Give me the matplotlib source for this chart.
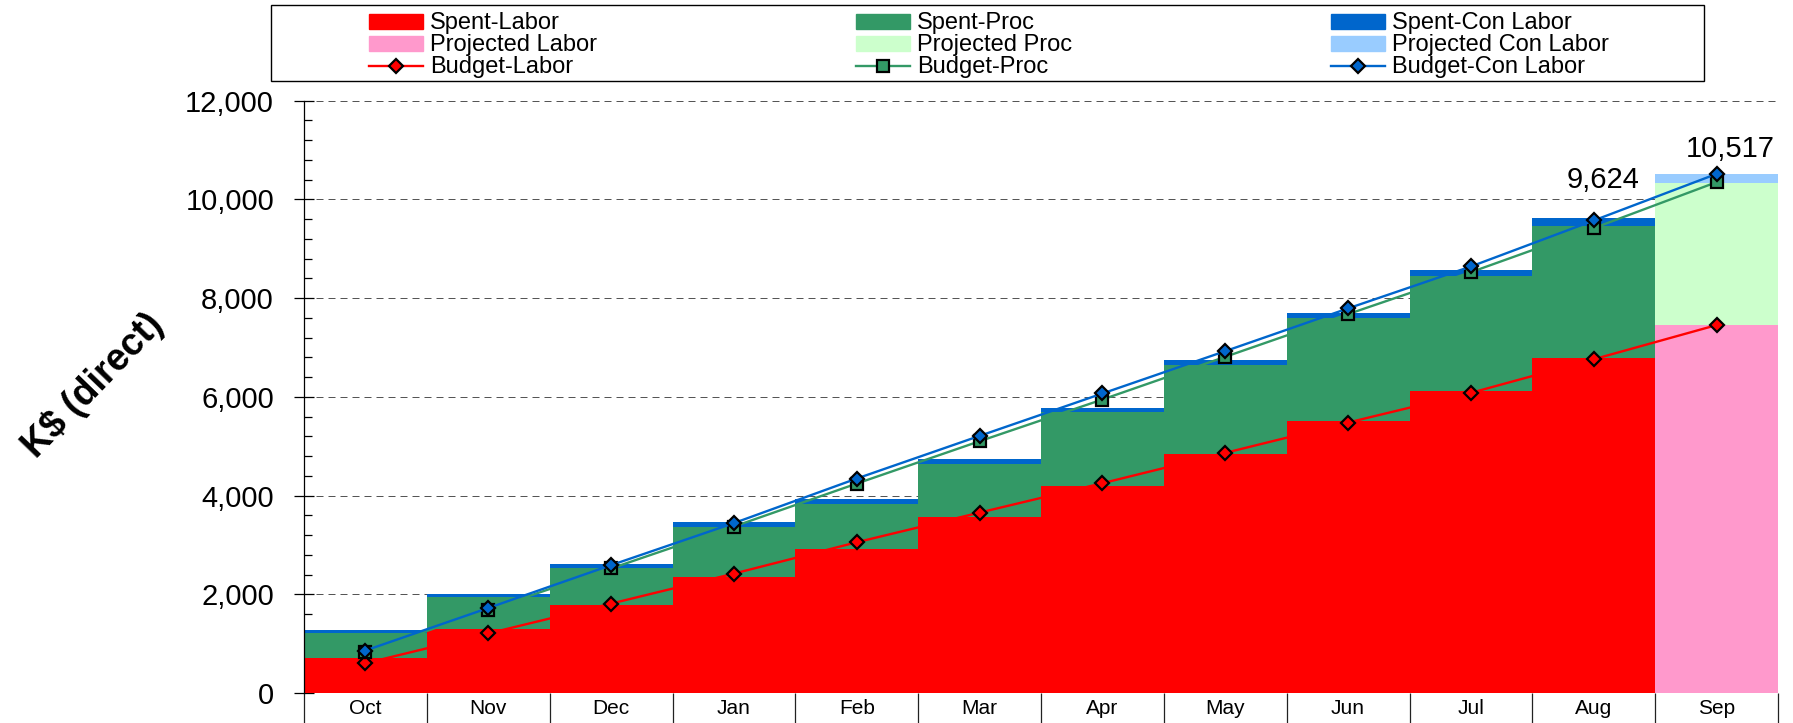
import matplotlib
matplotlib.use('Agg')
import matplotlib.pyplot as plt
from matplotlib.patches import Patch, Rectangle
from matplotlib.lines import Line2D
from matplotlib.ticker import MultipleLocator, FuncFormatter

plt.rcParams['font.family'] = ['Liberation Sans', 'DejaVu Sans']

months = ['Oct', 'Nov', 'Dec', 'Jan', 'Feb', 'Mar', 'Apr', 'May', 'Jun', 'Jul', 'Aug', 'Sep']

# spent (Oct..Aug), stacked pieces
spent_labor = [704, 1288, 1777, 2349, 2926, 3574, 4203, 4851, 5507, 6128, 6783]
spent_proc = [517, 651, 753, 1024, 905, 1068, 1493, 1798, 2094, 2317, 2669]
spent_con = [61, 61, 81, 93, 95, 101, 81, 94, 107, 129, 172]

# projected (Sep only)
proj_months = ['Sep']
proj_labor = [7454]
proj_proc = [2876]
proj_con = [187]

# budget lines (cumulative)
budget_labor = [603, 1207, 1811, 2419, 3054, 3655, 4250, 4865, 5480, 6081, 6762, 7454]
budget_proc = [826, 1689, 2523, 3373, 4243, 5101, 5946, 6811, 7676, 8526, 9418, 10350]
budget_con = [861, 1722, 2590, 3442, 4345, 5209, 6068, 6926, 7792, 8641, 9573, 10517]

c_labor, c_proc, c_con = '#FF0000', '#339966', '#0066CC'
c_plabor, c_pproc, c_pcon = '#FF99CC', '#CCFFCC', '#99CCFF'

W, H = 1793, 723
fig = plt.figure(figsize=(W / 100, H / 100), dpi=100)
ax = fig.add_axes([304 / W, 1 - 693 / H, 1474 / W, (693 - 100.7) / H])

xs = list(range(len(spent_labor)))
bot2 = [a + b for a, b in zip(spent_labor, spent_proc)]
ax.bar(xs, spent_labor, width=1.0, color=c_labor, lw=0)
ax.bar(xs, spent_proc, width=1.0, bottom=spent_labor, color=c_proc, lw=0)
ax.bar(xs, spent_con, width=1.0, bottom=bot2, color=c_con, lw=0)

xp = [months.index(m) for m in proj_months]
pbot2 = [a + b for a, b in zip(proj_labor, proj_proc)]
ax.bar(xp, proj_labor, width=1.0, color=c_plabor, lw=0)
ax.bar(xp, proj_proc, width=1.0, bottom=proj_labor, color=c_pproc, lw=0)
ax.bar(xp, proj_con, width=1.0, bottom=pbot2, color=c_pcon, lw=0)

xb = list(range(len(months)))
ax.plot(xb, budget_labor, color=c_labor, lw=1.7, marker='D', ms=7.3, mfc=c_labor, mec='black', mew=1.6, zorder=4)
ax.plot(xb, budget_proc, color=c_proc, lw=1.7, marker='s', ms=9, mfc=c_proc, mec='black', mew=1.6, zorder=5)
ax.plot(xb, budget_con, color=c_con, lw=1.7, marker='D', ms=7.3, mfc=c_con, mec='black', mew=1.6, zorder=6)

# total labels
spent_total = bot2[-1] + spent_con[-1]
proj_total = pbot2[-1] + proj_con[-1]
ax.annotate(f'{spent_total:,}', (xs[-1], spent_total), xytext=(7, 17), textcoords='offset points',
            ha='center', va='bottom', fontsize=21)
ax.annotate(f'{proj_total:,}', (xp[-1], proj_total), xytext=(10, 8), textcoords='offset points',
            ha='center', va='bottom', fontsize=21)

ax.set_xlim(-0.5, len(months) - 0.5)
ax.set_ylim(0, 12000)
ax.set_xticks(xb)
ax.set_xticklabels(months)
ax.set_xticks([i - 0.5 for i in range(len(months) + 1)], minor=True)
ax.tick_params(axis='x', which='major', length=0, labelsize=15, pad=4.5)
ax.tick_params(axis='x', which='minor', direction='out', length=22, width=0.9, color='#222222')

ax.yaxis.set_major_locator(MultipleLocator(2000))
ax.yaxis.set_minor_locator(MultipleLocator(400))
ax.yaxis.set_major_formatter(FuncFormatter(lambda v, p: f'{v:,.0f}'))
ax.tick_params(axis='y', which='major', direction='inout', length=14.4, width=0.9, labelsize=21, pad=14.4)
ax.tick_params(axis='y', which='minor', direction='in', length=5.8, width=0.9)

for s in ['top', 'right', 'bottom']:
    ax.spines[s].set_visible(False)
ax.spines['left'].set_linewidth(0.9)

ax.yaxis.grid(True, which='major', color='#555555', linestyle=(0, (7, 5)), lw=0.72)
ax.set_axisbelow(True)

fig.text(93 / W, 1 - 386 / H, 'K$ (direct)', rotation=46, ha='center', va='center',
         fontsize=27, fontweight='bold')

# legend (column order)
handles = [
    Patch(color=c_labor), Patch(color=c_plabor),
    Line2D([], [], color=c_labor, lw=1.7, marker='D', ms=7.5, mfc=c_labor, mec='black', mew=1.6),
    Patch(color=c_proc), Patch(color=c_pproc),
    Line2D([], [], color=c_proc, lw=1.7, marker='s', ms=9, mfc=c_proc, mec='black', mew=1.6),
    Patch(color=c_con), Patch(color=c_pcon),
    Line2D([], [], color=c_con, lw=1.7, marker='D', ms=7.5, mfc=c_con, mec='black', mew=1.6),
]
labels = ['Spent-Labor', 'Projected Labor', 'Budget-Labor',
          'Spent-Proc', 'Projected Proc', 'Budget-Proc',
          'Spent-Con Labor', 'Projected Con Labor', 'Budget-Con Labor']
fig.legend(handles, labels, ncol=3, loc='upper left',
           bbox_to_anchor=(369 / W, 1 - 12.5 / H, 1240 / W, 0.0), mode='expand',
           frameon=False, fontsize=17, handlelength=2.29, handleheight=0.62,
           handletextpad=0.3, labelspacing=0.0, borderpad=0, borderaxespad=0)
fig.add_artist(Rectangle((271 / W, 1 - 81 / H), (1704 - 271) / W, (81 - 5) / H,
                         transform=fig.transFigure, fill=False, ec='black', lw=1))

fig.savefig('out.png', dpi=100)
